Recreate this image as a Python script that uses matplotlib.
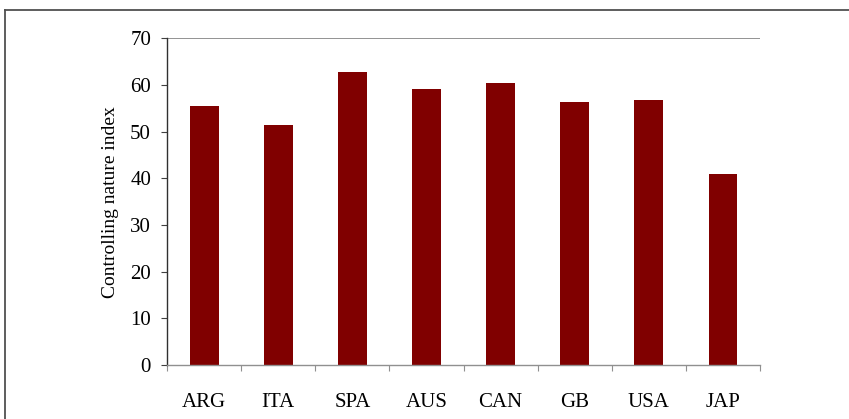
import numpy as np
import matplotlib.pyplot as plt
from matplotlib.lines import Line2D

countries = ['ARG', 'ITA', 'SPA', 'AUS', 'CAN', 'GB', 'USA', 'JAP']
index_vals = [55.5, 51.4, 62.7, 59.1, 60.4, 56.3, 56.7, 40.9]
y_ticks = [0, 10, 20, 30, 40, 50, 60, 70]

plt.rcParams['font.family'] = ['Liberation Serif', 'DejaVu Serif']

fig = plt.figure(figsize=(8.49, 4.19), dpi=100)
ax = fig.add_axes([0.1967, 0.1289, 0.6985, 0.7797])

x = np.arange(len(countries))
ax.bar(x, index_vals, width=0.39, color='#800000', zorder=2)

ax.set_xlim(-0.5, len(countries) - 0.5)
ax.set_ylim(0, 70)
ax.axhline(70, color='#808080', lw=1.2, zorder=1)

ax.set_yticks(y_ticks)
ax.set_xticks(x)
ax.set_xticklabels(countries)
ax.set_xticks(np.arange(-0.5, len(countries)), minor=True)

ax.tick_params(axis='y', length=4.5, width=0.8, color='#404040', pad=7, labelsize=15)
ax.tick_params(axis='x', which='major', length=0, pad=20, labelsize=15)
ax.tick_params(axis='x', which='minor', length=4.5, width=0.8, color='#909090')

for s in ['top', 'right']:
    ax.spines[s].set_visible(False)
ax.spines['left'].set_color('#303030')
ax.spines['left'].set_linewidth(1.0)
ax.spines['bottom'].set_color('#909090')
ax.spines['bottom'].set_linewidth(1.0)

ax.set_ylabel('Controlling nature index', fontsize=14, labelpad=8)

# outer frame
fx = 4.5 / 849
fy = 1 - 10 / 419
fig.add_artist(Line2D([fx, fx], [0, fy], color='#505050', lw=1.3, transform=fig.transFigure))
fig.add_artist(Line2D([fx, 1], [fy, fy], color='#505050', lw=1.3, transform=fig.transFigure))

fig.savefig('out.png', dpi=100)
